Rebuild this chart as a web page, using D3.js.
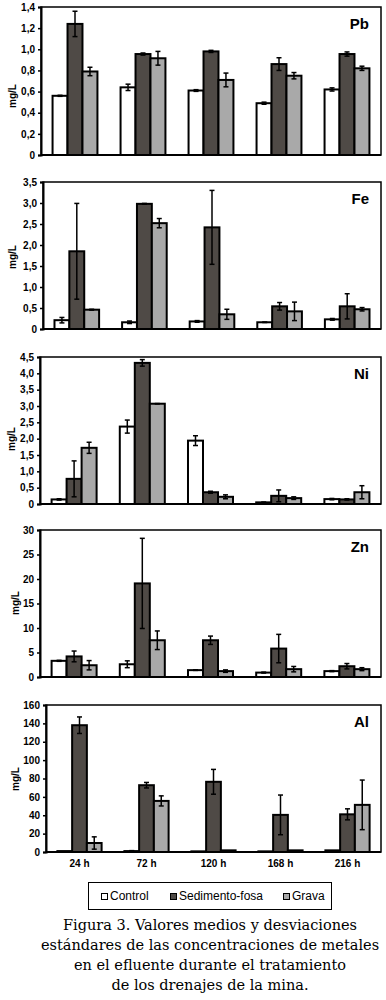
<!DOCTYPE html>
<html>
<head>
<meta charset="utf-8">
<script src="https://cdn.jsdelivr.net/npm/d3@7"></script>
<style>
  body { margin: 0; background: #fff; }
  svg { display: block; }
  .tick text { font-family: "Liberation Sans", Arial, sans-serif; font-weight: bold; font-size: 10px; fill: #000; }
</style>
</head>
<body>
<div id="chart"></div>
<script>
// categories and series
const groups = ["24 h", "72 h", "120 h", "168 h", "216 h"];
const series = ["Control", "Sedimento-fosa", "Grava"];
const colors = ["#ffffff", "#4f4a46", "#a9a9a9"];

// means per time, [Control, Sedimento-fosa, Grava]
const pbMeans = [[0.56, 1.24, 0.79], [0.64, 0.955, 0.915], [0.61, 0.98, 0.71], [0.49, 0.86, 0.75], [0.62, 0.955, 0.82]];
const pbErrors = [[0.005, 0.12, 0.04], [0.03, 0.01, 0.065], [0.008, 0.01, 0.065], [0.01, 0.06, 0.03], [0.015, 0.02, 0.02]];

const feMeans = [[0.21, 1.85, 0.46], [0.16, 2.98, 2.52], [0.18, 2.42, 0.35], [0.16, 0.54, 0.42], [0.23, 0.54, 0.47]];
const feErrors = [[0.065, 1.14, 0.01], [0.03, 0.01, 0.11], [0.02, 0.88, 0.12], [0.005, 0.09, 0.22], [0.02, 0.30, 0.04]];

const niMeans = [[0.14, 0.77, 1.72], [2.37, 4.32, 3.07], [1.94, 0.36, 0.22], [0.05, 0.25, 0.18], [0.15, 0.14, 0.36]];
const niErrors = [[0.02, 0.55, 0.17], [0.2, 0.1, 0.005], [0.15, 0.03, 0.06], [0.01, 0.18, 0.04], [0.02, 0.02, 0.2]];

const znMeans = [[3.3, 4.2, 2.4], [2.6, 19.1, 7.5], [1.4, 7.5, 1.2], [0.9, 5.8, 1.6], [1.2, 2.2, 1.6]];
const znErrors = [[0.1, 1.1, 0.95], [0.7, 9.2, 1.9], [0.05, 0.85, 0.25], [0.1, 2.9, 0.55], [0.1, 0.55, 0.3]];

const alMeans = [[1, 138, 9.8], [1, 72.7, 55.6], [0.7, 76.4, 1.8], [0.7, 40.4, 1.8], [1.8, 41, 51.3]];
const alErrors = [[0, 9, 6.7], [0.5, 3, 5.5], [0, 13.5, 0], [0, 21.6, 0], [0, 6, 27]];

const captionLines = [
  "Figura 3. Valores medios y desviaciones",
  "estándares de las concentraciones de metales",
  "en el efluente durante el tratamiento",
  "de los drenajes de la mina."
];

const panels = [
  { name: "Pb", means: pbMeans, errs: pbErrors, max: 1.4, step: 0.2, fmt: ".1f", top: 7, bottom: 155, left: 41, unitY: 96, unitX: 13 },
  { name: "Fe", means: feMeans, errs: feErrors, max: 3.5, step: 0.5, fmt: ".1f", top: 182, bottom: 329, left: 43, unitY: 257, unitX: 13 },
  { name: "Ni", means: niMeans, errs: niErrors, max: 4.5, step: 0.5, fmt: ".1f", top: 357, bottom: 504, left: 40, unitY: 439, unitX: 12 },
  { name: "Zn", means: znMeans, errs: znErrors, max: 30, step: 5, fmt: "d", top: 530, bottom: 677, left: 40, unitY: 603, unitX: 16 },
  { name: "Al", means: alMeans, errs: alErrors, max: 160, step: 20, fmt: "d", top: 705, bottom: 852, left: 46, unitY: 779, unitX: 16 }
];

const W = 386, H = 1000, right = 381;
const locale = d3.formatLocale({ decimal: ",", thousands: ".", grouping: [3], currency: ["", ""] });

const svg = d3.select("#chart").append("svg").attr("width", W).attr("height", H);

panels.forEach(function(p, pi) {
  const g = svg.append("g");

  const x0 = d3.scaleBand().domain(groups).range([p.left, right]).paddingInner(0.34).paddingOuter(0.17);
  const x1 = d3.scaleBand().domain(series).range([0, x0.bandwidth()]);
  const y = d3.scaleLinear().domain([0, p.max]).range([p.bottom, p.top]);

  const f = locale.format(p.fmt);
  const ticks = d3.range(0, p.max + p.step / 2, p.step);

  // frame
  g.append("rect")
    .attr("x", p.left).attr("y", p.top)
    .attr("width", right - p.left).attr("height", p.bottom - p.top)
    .attr("fill", "none").attr("stroke", "#000").attr("stroke-width", 1.5);

  // y axis
  const ax = g.append("g")
    .attr("transform", "translate(" + p.left + ",0)")
    .call(d3.axisLeft(y).tickValues(ticks).tickSize(3).tickPadding(3)
      .tickFormat(function(d) { return d === 0 ? "0" : f(d); }));
  ax.select(".domain").attr("stroke", "#000").attr("stroke-width", 2);
  ax.selectAll(".tick line").attr("stroke", "#000").attr("stroke-width", 1.5);

  // bottom axis line
  g.append("line")
    .attr("x1", p.left).attr("x2", right)
    .attr("y1", y(0)).attr("y2", y(0))
    .attr("stroke", "#000").attr("stroke-width", 2);

  // bars
  const rows = [];
  groups.forEach(function(grp, gi) {
    series.forEach(function(s, si) {
      rows.push({ grp: grp, s: s, si: si, v: p.means[gi][si], e: p.errs[gi][si] });
    });
  });

  g.append("g").selectAll("rect")
    .data(rows).enter().append("rect")
    .attr("x", function(d) { return x0(d.grp) + x1(d.s); })
    .attr("y", function(d) { return y(d.v); })
    .attr("width", x1.bandwidth())
    .attr("height", function(d) { return y(0) - y(d.v); })
    .attr("fill", function(d) { return colors[d.si]; })
    .attr("stroke", "#000").attr("stroke-width", 2);

  // error bars
  const eb = g.append("g").selectAll("g")
    .data(rows.filter(function(d) { return d.e > 0; })).enter().append("g")
    .attr("transform", function(d) { return "translate(" + (x0(d.grp) + x1(d.s) + x1.bandwidth() / 2) + ",0)"; });
  eb.append("line")
    .attr("y1", function(d) { return y(d.v + d.e); })
    .attr("y2", function(d) { return y(Math.max(0, d.v - d.e)); })
    .attr("stroke", "#000").attr("stroke-width", 1.5);
  [1, -1].forEach(function(sign) {
    eb.append("line")
      .attr("x1", -2.5).attr("x2", 2.5)
      .attr("y1", function(d) { return y(Math.max(0, d.v + sign * d.e)); })
      .attr("y2", function(d) { return y(Math.max(0, d.v + sign * d.e)); })
      .attr("stroke", "#000").attr("stroke-width", 1.5);
  });

  // metal label
  g.append("text")
    .attr("x", right - 12).attr("y", p.top + 22)
    .attr("text-anchor", "end")
    .style("font-family", "'Liberation Sans', Arial, sans-serif")
    .style("font-weight", "bold").style("font-size", "15px")
    .text(p.name);

  // unit label
  g.append("text")
    .attr("transform", "translate(" + (p.unitX + 3) + "," + p.unitY + ") rotate(-90)")
    .attr("text-anchor", "middle")
    .style("font-family", "'Liberation Sans', Arial, sans-serif")
    .style("font-weight", "bold").style("font-size", "10px")
    .text("mg/L");

  // x labels only on the last panel
  if (pi === panels.length - 1) {
    g.append("g").selectAll("text")
      .data(groups).enter().append("text")
      .attr("x", function(d) { return x0(d) + x0.bandwidth() / 2; })
      .attr("y", p.bottom + 15)
      .attr("text-anchor", "middle")
      .style("font-family", "'Liberation Sans', Arial, sans-serif")
      .style("font-weight", "bold").style("font-size", "10px")
      .text(function(d) { return d; });
  }
});

// legend
const lg = svg.append("g");
lg.append("rect")
  .attr("x", 88.5).attr("y", 882.5).attr("width", 243).attr("height", 27)
  .attr("fill", "none").attr("stroke", "#000").attr("stroke-width", 1);
const legendX = [101, 170, 283];
series.forEach(function(s, i) {
  lg.append("rect")
    .attr("x", legendX[i] + 0.5).attr("y", 893.5).attr("width", 6).attr("height", 6)
    .attr("fill", colors[i]).attr("stroke", "#000").attr("stroke-width", 1);
  lg.append("text")
    .attr("x", legendX[i] + 9).attr("y", 900)
    .style("font-family", "'Liberation Sans', Arial, sans-serif")
    .style("font-size", "12px")
    .text(s);
});

// caption
svg.append("g").selectAll("text")
  .data(captionLines).enter().append("text")
  .attr("x", 210)
  .attr("y", function(d, i) { return 930 + i * 20; })
  .attr("text-anchor", "middle")
  .style("font-family", "'DejaVu Serif', serif")
  .style("font-size", "14.5px")
  .text(function(d) { return d; });
</script>
</body>
</html>
